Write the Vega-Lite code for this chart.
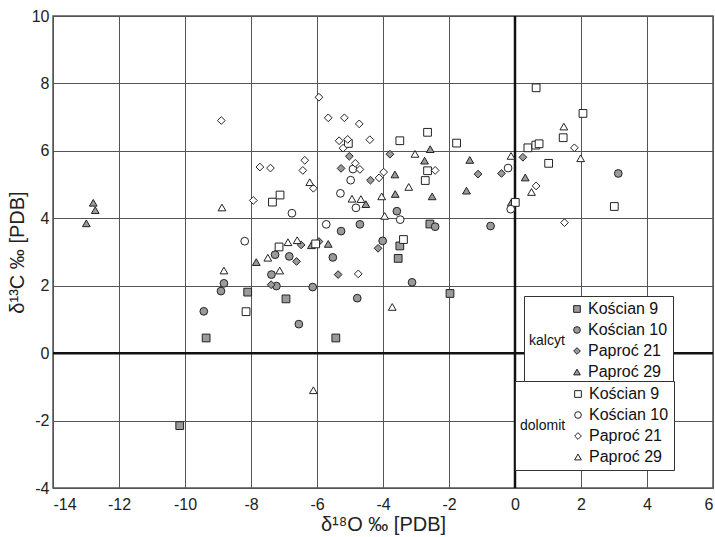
{
  "$schema": "https://vega.github.io/schema/vega-lite/v6.json",
  "width": 660,
  "height": 472,
  "autosize": "none",
  "padding": {"left": 53, "top": 16, "right": 2, "bottom": 49},
  "background": "white",
  "config": {
    "view": {"stroke": "#555", "strokeWidth": 1.5},
    "font": "Liberation Sans",
    "axis": {
      "grid": true, "gridColor": "#555", "gridWidth": 1, "gridOpacity": 1,
      "domain": false, "ticks": false,
      "labelFont": "Liberation Sans", "labelFontSize": 16, "labelColor": "#222",
      "titleFont": "Liberation Sans", "titleFontSize": 20, "titleFontWeight": "normal", "titleColor": "#222",
      "labelExpr": "'' + datum.value", "labelOverlap": false
    },
    "axisX": {"labelPadding": 8, "titlePadding": 2},
    "axisY": {"labelPadding": 4, "titlePadding": 4}
  },
  "data": {"values": [
    {"m": "kalcyt", "s": "Kościan 9", "x": -8.10, "y": 1.81},
    {"m": "kalcyt", "s": "Kościan 9", "x": -9.36, "y": 0.45},
    {"m": "kalcyt", "s": "Kościan 9", "x": -10.16, "y": -2.15},
    {"m": "kalcyt", "s": "Kościan 9", "x": -6.94, "y": 1.61},
    {"m": "kalcyt", "s": "Kościan 9", "x": -3.49, "y": 3.18},
    {"m": "kalcyt", "s": "Kościan 9", "x": -3.54, "y": 2.81},
    {"m": "kalcyt", "s": "Kościan 9", "x": -2.58, "y": 3.83},
    {"m": "kalcyt", "s": "Kościan 9", "x": -5.43, "y": 0.45},
    {"m": "kalcyt", "s": "Kościan 9", "x": -1.97, "y": 1.77},
    {"m": "kalcyt", "s": "Kościan 10", "x": -8.82, "y": 2.07},
    {"m": "kalcyt", "s": "Kościan 10", "x": -8.91, "y": 1.84},
    {"m": "kalcyt", "s": "Kościan 10", "x": -9.43, "y": 1.24},
    {"m": "kalcyt", "s": "Kościan 10", "x": -7.27, "y": 2.92},
    {"m": "kalcyt", "s": "Kościan 10", "x": -7.38, "y": 2.33},
    {"m": "kalcyt", "s": "Kościan 10", "x": -7.23, "y": 1.99},
    {"m": "kalcyt", "s": "Kościan 10", "x": -6.84, "y": 2.87},
    {"m": "kalcyt", "s": "Kościan 10", "x": -6.13, "y": 1.96},
    {"m": "kalcyt", "s": "Kościan 10", "x": -6.55, "y": 0.86},
    {"m": "kalcyt", "s": "Kościan 10", "x": -5.52, "y": 2.84},
    {"m": "kalcyt", "s": "Kościan 10", "x": -5.27, "y": 3.62},
    {"m": "kalcyt", "s": "Kościan 10", "x": -4.70, "y": 3.82},
    {"m": "kalcyt", "s": "Kościan 10", "x": -4.01, "y": 3.33},
    {"m": "kalcyt", "s": "Kościan 10", "x": -3.58, "y": 4.21},
    {"m": "kalcyt", "s": "Kościan 10", "x": -2.42, "y": 3.75},
    {"m": "kalcyt", "s": "Kościan 10", "x": -0.74, "y": 3.77},
    {"m": "kalcyt", "s": "Kościan 10", "x": -3.12, "y": 2.10},
    {"m": "kalcyt", "s": "Kościan 10", "x": -4.78, "y": 1.63},
    {"m": "kalcyt", "s": "Kościan 10", "x": 3.13, "y": 5.33},
    {"m": "kalcyt", "s": "Paproć 21", "x": -7.39, "y": 2.03},
    {"m": "kalcyt", "s": "Paproć 21", "x": -6.62, "y": 2.72},
    {"m": "kalcyt", "s": "Paproć 21", "x": -6.48, "y": 3.21},
    {"m": "kalcyt", "s": "Paproć 21", "x": -5.94, "y": 3.31},
    {"m": "kalcyt", "s": "Paproć 21", "x": -5.36, "y": 2.33},
    {"m": "kalcyt", "s": "Paproć 21", "x": -4.15, "y": 3.11},
    {"m": "kalcyt", "s": "Paproć 21", "x": -3.79, "y": 5.90},
    {"m": "kalcyt", "s": "Paproć 21", "x": -5.02, "y": 5.84},
    {"m": "kalcyt", "s": "Paproć 21", "x": -5.27, "y": 5.48},
    {"m": "kalcyt", "s": "Paproć 21", "x": -4.38, "y": 5.13},
    {"m": "kalcyt", "s": "Paproć 21", "x": -1.12, "y": 5.31},
    {"m": "kalcyt", "s": "Paproć 21", "x": -0.41, "y": 5.33},
    {"m": "kalcyt", "s": "Paproć 21", "x": 0.24, "y": 5.81},
    {"m": "kalcyt", "s": "Paproć 29", "x": -12.78, "y": 4.46},
    {"m": "kalcyt", "s": "Paproć 29", "x": -12.72, "y": 4.24},
    {"m": "kalcyt", "s": "Paproć 29", "x": -12.99, "y": 3.85},
    {"m": "kalcyt", "s": "Paproć 29", "x": -7.84, "y": 2.70},
    {"m": "kalcyt", "s": "Paproć 29", "x": -6.17, "y": 3.20},
    {"m": "kalcyt", "s": "Paproć 29", "x": -5.66, "y": 3.24},
    {"m": "kalcyt", "s": "Paproć 29", "x": -4.52, "y": 4.42},
    {"m": "kalcyt", "s": "Paproć 29", "x": -3.64, "y": 5.30},
    {"m": "kalcyt", "s": "Paproć 29", "x": -3.63, "y": 4.72},
    {"m": "kalcyt", "s": "Paproć 29", "x": -2.51, "y": 4.65},
    {"m": "kalcyt", "s": "Paproć 29", "x": -2.74, "y": 5.71},
    {"m": "kalcyt", "s": "Paproć 29", "x": -2.57, "y": 6.05},
    {"m": "kalcyt", "s": "Paproć 29", "x": -1.37, "y": 5.73},
    {"m": "kalcyt", "s": "Paproć 29", "x": -1.47, "y": 4.82},
    {"m": "kalcyt", "s": "Paproć 29", "x": 0.31, "y": 5.21},
    {"m": "kalcyt", "s": "Paproć 29", "x": -0.11, "y": 4.47},
    {"m": "dolomit", "s": "Kościan 9", "x": -7.35, "y": 4.48},
    {"m": "dolomit", "s": "Kościan 9", "x": -7.12, "y": 4.69},
    {"m": "dolomit", "s": "Kościan 9", "x": -7.15, "y": 3.15},
    {"m": "dolomit", "s": "Kościan 9", "x": -8.15, "y": 1.23},
    {"m": "dolomit", "s": "Kościan 9", "x": -6.04, "y": 3.24},
    {"m": "dolomit", "s": "Kościan 9", "x": -5.05, "y": 6.22},
    {"m": "dolomit", "s": "Kościan 9", "x": -3.49, "y": 6.30},
    {"m": "dolomit", "s": "Kościan 9", "x": -2.65, "y": 6.55},
    {"m": "dolomit", "s": "Kościan 9", "x": -1.77, "y": 6.23},
    {"m": "dolomit", "s": "Kościan 9", "x": -2.65, "y": 5.41},
    {"m": "dolomit", "s": "Kościan 9", "x": -2.72, "y": 5.12},
    {"m": "dolomit", "s": "Kościan 9", "x": -3.38, "y": 3.37},
    {"m": "dolomit", "s": "Kościan 9", "x": 0.01, "y": 4.47},
    {"m": "dolomit", "s": "Kościan 9", "x": 0.64, "y": 7.87},
    {"m": "dolomit", "s": "Kościan 9", "x": 2.06, "y": 7.11},
    {"m": "dolomit", "s": "Kościan 9", "x": 1.46, "y": 6.39},
    {"m": "dolomit", "s": "Kościan 9", "x": 0.39, "y": 6.09},
    {"m": "dolomit", "s": "Kościan 9", "x": 0.63, "y": 6.17},
    {"m": "dolomit", "s": "Kościan 9", "x": 0.73, "y": 6.21},
    {"m": "dolomit", "s": "Kościan 9", "x": 1.02, "y": 5.63},
    {"m": "dolomit", "s": "Kościan 9", "x": 3.01, "y": 4.35},
    {"m": "dolomit", "s": "Kościan 10", "x": -8.19, "y": 3.32},
    {"m": "dolomit", "s": "Kościan 10", "x": -6.76, "y": 4.15},
    {"m": "dolomit", "s": "Kościan 10", "x": -5.72, "y": 3.82},
    {"m": "dolomit", "s": "Kościan 10", "x": -5.29, "y": 4.74},
    {"m": "dolomit", "s": "Kościan 10", "x": -4.91, "y": 5.46},
    {"m": "dolomit", "s": "Kościan 10", "x": -4.98, "y": 5.13},
    {"m": "dolomit", "s": "Kościan 10", "x": -4.82, "y": 4.31},
    {"m": "dolomit", "s": "Kościan 10", "x": -3.48, "y": 3.96},
    {"m": "dolomit", "s": "Kościan 10", "x": -0.21, "y": 5.49},
    {"m": "dolomit", "s": "Kościan 10", "x": -0.13, "y": 4.27},
    {"m": "dolomit", "s": "Paproć 21", "x": -8.90, "y": 6.90},
    {"m": "dolomit", "s": "Paproć 21", "x": -7.73, "y": 5.52},
    {"m": "dolomit", "s": "Paproć 21", "x": -7.41, "y": 5.49},
    {"m": "dolomit", "s": "Paproć 21", "x": -7.93, "y": 4.53},
    {"m": "dolomit", "s": "Paproć 21", "x": -5.94, "y": 7.59},
    {"m": "dolomit", "s": "Paproć 21", "x": -5.66, "y": 6.98},
    {"m": "dolomit", "s": "Paproć 21", "x": -5.17, "y": 6.98},
    {"m": "dolomit", "s": "Paproć 21", "x": -4.72, "y": 6.80},
    {"m": "dolomit", "s": "Paproć 21", "x": -5.33, "y": 6.30},
    {"m": "dolomit", "s": "Paproć 21", "x": -5.07, "y": 6.34},
    {"m": "dolomit", "s": "Paproć 21", "x": -5.21, "y": 6.08},
    {"m": "dolomit", "s": "Paproć 21", "x": -4.40, "y": 6.33},
    {"m": "dolomit", "s": "Paproć 21", "x": -6.37, "y": 5.72},
    {"m": "dolomit", "s": "Paproć 21", "x": -6.43, "y": 5.42},
    {"m": "dolomit", "s": "Paproć 21", "x": -6.11, "y": 4.89},
    {"m": "dolomit", "s": "Paproć 21", "x": -4.84, "y": 5.63},
    {"m": "dolomit", "s": "Paproć 21", "x": -4.70, "y": 5.45},
    {"m": "dolomit", "s": "Paproć 21", "x": -4.12, "y": 5.20},
    {"m": "dolomit", "s": "Paproć 21", "x": -3.98, "y": 5.37},
    {"m": "dolomit", "s": "Paproć 21", "x": -2.42, "y": 5.42},
    {"m": "dolomit", "s": "Paproć 21", "x": -4.75, "y": 2.35},
    {"m": "dolomit", "s": "Paproć 21", "x": 1.80, "y": 6.09},
    {"m": "dolomit", "s": "Paproć 21", "x": 0.64, "y": 4.96},
    {"m": "dolomit", "s": "Paproć 21", "x": 1.50, "y": 3.87},
    {"m": "dolomit", "s": "Paproć 29", "x": -8.88, "y": 4.32},
    {"m": "dolomit", "s": "Paproć 29", "x": -6.88, "y": 3.29},
    {"m": "dolomit", "s": "Paproć 29", "x": -6.60, "y": 3.35},
    {"m": "dolomit", "s": "Paproć 29", "x": -7.49, "y": 2.83},
    {"m": "dolomit", "s": "Paproć 29", "x": -7.13, "y": 2.45},
    {"m": "dolomit", "s": "Paproć 29", "x": -8.82, "y": 2.45},
    {"m": "dolomit", "s": "Paproć 29", "x": -6.22, "y": 5.07},
    {"m": "dolomit", "s": "Paproć 29", "x": -4.94, "y": 4.58},
    {"m": "dolomit", "s": "Paproć 29", "x": -4.67, "y": 4.57},
    {"m": "dolomit", "s": "Paproć 29", "x": -4.04, "y": 4.65},
    {"m": "dolomit", "s": "Paproć 29", "x": -3.95, "y": 4.07},
    {"m": "dolomit", "s": "Paproć 29", "x": -3.22, "y": 4.93},
    {"m": "dolomit", "s": "Paproć 29", "x": -3.03, "y": 5.91},
    {"m": "dolomit", "s": "Paproć 29", "x": -0.12, "y": 5.85},
    {"m": "dolomit", "s": "Paproć 29", "x": 1.48, "y": 6.72},
    {"m": "dolomit", "s": "Paproć 29", "x": 1.99, "y": 5.78},
    {"m": "dolomit", "s": "Paproć 29", "x": 0.50, "y": 4.78},
    {"m": "dolomit", "s": "Paproć 29", "x": -3.72, "y": 1.37},
    {"m": "dolomit", "s": "Paproć 29", "x": -6.11, "y": -1.10}
  ]},
  "layer": [
    {
      "data": {"values": [{}]},
      "mark": {"type": "rule", "color": "#111", "strokeWidth": 2.5},
      "encoding": {"x": {"datum": 0, "type": "quantitative", "title": "δ¹⁸O ‰ [PDB]"}}
    },
    {
      "data": {"values": [{}]},
      "mark": {"type": "rule", "color": "#111", "strokeWidth": 2.5},
      "encoding": {"y": {"datum": 0, "type": "quantitative", "title": "δ¹³C ‰ [PDB]"}}
    },
    {
      "transform": [{"filter": "datum.m === 'kalcyt'"}],
      "mark": {"type": "point", "filled": true, "fill": "#9a9a9a", "stroke": "#222", "strokeWidth": 1, "opacity": 1, "size": 60},
      "encoding": {
        "x": {"field": "x", "type": "quantitative", "title": "δ¹⁸O ‰ [PDB]", "scale": {"domain": [-14, 6], "nice": false, "zero": false}, "axis": {"values": [-14, -12, -10, -8, -6, -4, -2, 0, 2, 4, 6]}},
        "y": {"field": "y", "type": "quantitative", "title": "δ¹³C ‰ [PDB]", "scale": {"domain": [-4, 10], "nice": false, "zero": false}, "axis": {"values": [-4, -2, 0, 2, 4, 6, 8, 10]}},
        "shape": {"field": "s", "type": "nominal",
          "scale": {"domain": ["Kościan 9", "Kościan 10", "Paproć 21", "Paproć 29"], "range": ["square", "circle", "diamond", "triangle-up"]},
          "legend": {"title": "kalcyt", "orient": "none", "legendX": 471, "legendY": 280, "titleOrient": "left", "titleAnchor": "middle",
            "titleFont": "Liberation Sans", "titleFontSize": 14, "titleFontWeight": "normal", "titleColor": "#111", "titlePadding": 4,
            "labelFont": "Liberation Sans", "labelFontSize": 16, "labelColor": "#111", "labelOffset": 3,
            "symbolSize": 45, "symbolStrokeWidth": 1,
            "rowPadding": 5, "padding": 5, "fillColor": "white", "strokeColor": "#333"}}
      }
    },
    {
      "transform": [{"filter": "datum.m === 'dolomit'"}],
      "mark": {"type": "point", "filled": false, "fill": "white", "stroke": "#222", "strokeWidth": 1, "opacity": 1, "size": 60},
      "encoding": {
        "x": {"field": "x", "type": "quantitative", "title": "δ¹⁸O ‰ [PDB]"},
        "y": {"field": "y", "type": "quantitative", "title": "δ¹³C ‰ [PDB]"},
        "shape": {"field": "s", "type": "nominal",
          "scale": {"domain": ["Kościan 9", "Kościan 10", "Paproć 21", "Paproć 29"], "range": ["square", "circle", "diamond", "triangle-up"]},
          "legend": {"title": "dolomit", "orient": "none", "legendX": 462, "legendY": 365, "titleOrient": "left", "titleAnchor": "middle",
            "titleFont": "Liberation Sans", "titleFontSize": 14, "titleFontWeight": "normal", "titleColor": "#111", "titlePadding": 4,
            "labelFont": "Liberation Sans", "labelFontSize": 16, "labelColor": "#111", "labelOffset": 3,
            "symbolSize": 45, "symbolStrokeWidth": 1,
            "rowPadding": 5, "padding": 5, "fillColor": "white", "strokeColor": "#333"}}
      }
    }
  ],
  "resolve": {"scale": {"shape": "independent"}}
}
